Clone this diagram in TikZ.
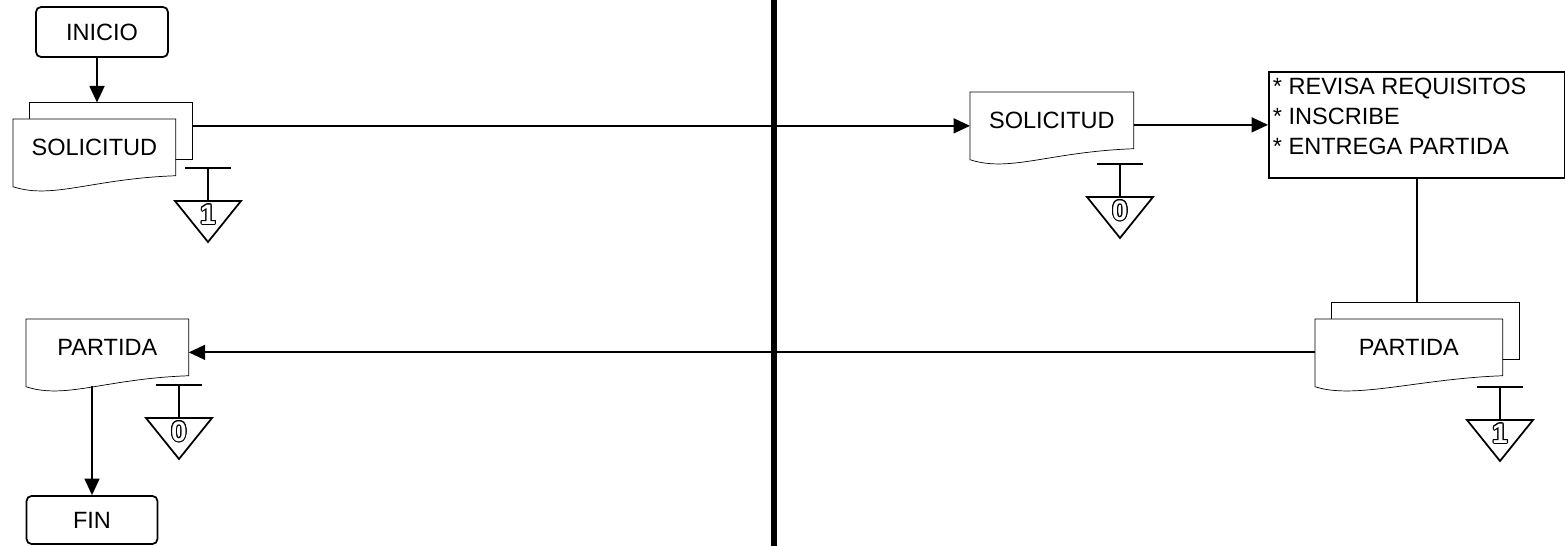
\documentclass[tikz,border=0pt]{standalone}
\usepackage{fontspec}
\setmainfont{Liberation Sans}
\usepackage{xcolor}
\usepackage{contour}
\usetikzlibrary{arrows.meta,backgrounds,positioning}
\contourlength{0.6pt}
\newcommand{\hueco}[1]{\contour{black}{\textcolor{white}{#1}}}
\newcommand{\ondas}[1]{%
  \draw[fill=white] (#1.south east) -- (#1.north east) -- (#1.north west)
  -- ([yshift=-0.22cm]#1.south west) .. controls +(0.8cm,-0.26cm) and
  +(-1.68cm,-0.06cm) .. (#1.south east) -- cycle}

\begin{document}
\begin{tikzpicture}[%
    x=0.02cm,%
    y=-0.02cm,%
    line width=1pt%
  ]
  %
% Styles
%
\tikzset{every node/.style={font=\fontsize{13.4}{17}\selectfont}};%
\tikzset{flecha/.style={-{Triangle[length=0.33cm, width=0.3cm]}}};%
\tikzset{terminal/.style={draw, rounded corners=0.1cm, minimum width=2.64cm, minimum height=1cm, inner sep=0}};%
\tikzset{documento/.style={inner sep=0, minimum width=3.22cm, minimum height=1.1cm}};%
\tikzset{hoja/.style={documento}};%
\tikzset{caja/.style={draw, inner sep=0, minimum width=5.92cm, minimum height=2.12cm}};%
\tikzset{tareas/.style={align=left, inner xsep=0.08cm, inner ysep=0.13cm, anchor=north west}};%
\tikzset{numero/.style={font=\bfseries\fontsize{16}{16}\selectfont, inner sep=0}};%
\tikzset{separador/.style={line width=0.12cm}};%
\tikzset{archivo/.pic={%
    \draw (-23,0) -- (23,0);%
    \draw (0,0) -- (0,33);%
    \draw (-33,33) -- (33,33) -- (0,74) -- cycle;%
    \node[numero] (-num) at (0,47) {\hueco{#1}};%
  }};%

%
% Macros
%
\pgfmathsetmacro{\desplaza}{16.5};%

\useasboundingbox (0,0) rectangle (1565,546);%

%
% Left lane
%
\node[terminal] (inicio) at (102,32) {INICIO};%
\node[documento, anchor=north west] (sol1) at (13,119) {SOLICITUD};%
\node[hoja] (sol1b) at ([shift={(\desplaza,-\desplaza)}]sol1.center) {};%
\node[documento, anchor=north west] (part1) at (26,319) {PARTIDA};%
\node[terminal, minimum width=2.62cm, minimum height=0.96cm] (fin) at (92,520) {FIN};%

%
% Right lane
%
\node[documento, anchor=north west, minimum width=3.24cm] (sol2) at (970,92) {SOLICITUD};%
\node[caja, anchor=north west] (proceso) at (1268,71) {};%
\node[tareas] (tareas) at (proceso.north west) {* REVISA REQUISITOS\\* INSCRIBE\\* ENTREGA PARTIDA};%
\node[documento, anchor=north west, minimum width=3.72cm] (part2) at (1315,319) {PARTIDA};%
\node[hoja, minimum width=3.72cm] (part2b) at ([shift={(\desplaza,-\desplaza)}]part2.center) {};%

  % The sheets go behind the texts
  \begin{scope}[on background layer]
    \draw[fill=white] (sol1b.south west) rectangle (sol1b.north east);%
    \draw[fill=white] (part2b.south west) rectangle (part2b.north east);%
    \ondas{sol1};%
    \ondas{sol2};%
    \ondas{part1};%
    \ondas{part2};%
  \end{scope}

  \draw[flecha] ([xshift=-0.1cm]inicio.south) -- ([xshift=-0.1cm]inicio.south |- sol1b.north);%
  \draw[flecha] ([yshift=0.1cm]sol1b.east) -- ([yshift=0.1cm]sol1b.east -| sol2.west);%
  \draw[flecha] (sol2.east |- proceso.west) -- (proceso.west);%
  \draw (proceso.south) -- (proceso.south |- part2b.north);%
  \draw[flecha] ([yshift=-0.1cm]part2.west) -- ([yshift=-0.1cm]part2.west -| part1.east);%
  \draw[flecha] ([yshift=-0.2cm]part1.south -| fin.north) -- (fin.north);%

  \pic (archsol1) at (208,168) {archivo=1};%
  \pic (archsol2) at (1120,164) {archivo=0};%
  \pic (archpart1) at (179,385) {archivo=0};%
  \pic (archpart2) at (1500,387) {archivo=1};%

  \draw[separador] (774,0) -- (774,546);%
\end{tikzpicture}
\end{document}
